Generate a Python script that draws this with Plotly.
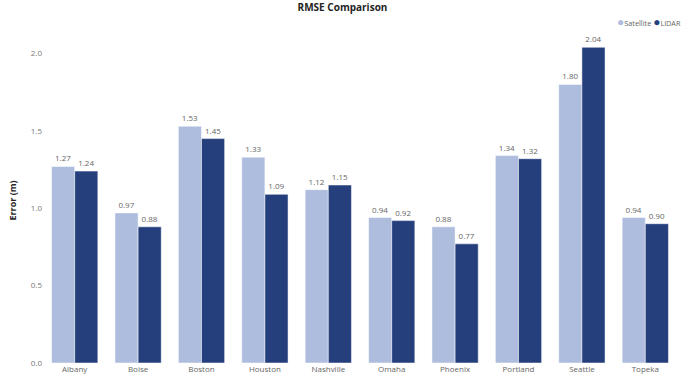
import plotly.graph_objects as go

cities = ["Albany", "Boise", "Boston", "Houston", "Nashville", "Omaha",
          "Phoenix", "Portland", "Seattle", "Topeka"]
satellite = [1.27, 0.97, 1.53, 1.33, 1.12, 0.94, 0.88, 1.34, 1.80, 0.94]
lidar = [1.24, 0.88, 1.45, 1.09, 1.15, 0.92, 0.77, 1.32, 2.04, 0.90]
y_ticks = [0.0, 0.5, 1.0, 1.5, 2.0]
series_names = ["Satellite", "LiDAR"]

sat_color = "#AEBDDE"
lidar_color = "#253F7D"
colors = [sat_color, lidar_color]
font_family = "Open Sans, Noto Sans, sans-serif"

fig = go.Figure()
for name, vals, col in zip(series_names, [satellite, lidar], colors):
    fig.add_trace(go.Bar(
        x=cities, y=vals, name=name, marker=dict(color=col, line=dict(color="white", width=0.5)),
        text=[f"{v:.2f}" for v in vals], textposition="outside",
        textfont=dict(size=8, color="#666666", family=font_family),
        cliponaxis=False, showlegend=False,
    ))

# compact legend (circle + label) in the top-right corner
legend_text = " ".join(
    f'<span style="color:{col};font-size:12px">●</span>{name}'
    for name, col in zip(series_names, colors)
)
legend_ann = [dict(text=legend_text, xref="paper", yref="paper", x=1, y=1, xshift=5, yshift=17,
                   xanchor="right", yanchor="middle", showarrow=False, borderpad=0,
                   font=dict(size=7.3, color="#666666", family=font_family))]

fig.update_layout(
    width=685, height=375,
    margin=dict(l=43, r=8, t=38, b=12, autoexpand=False),
    paper_bgcolor="white", plot_bgcolor="white",
    font=dict(family=font_family, size=8, color="#666666"),
    title=dict(text="<b>RMSE Comparison</b>", x=0.5, xanchor="center", y=0.98, yanchor="middle",
               font=dict(size=10, color="#252423", family=font_family)),
    barmode="group", bargap=0.27, bargroupgap=0,
    showlegend=False,
    annotations=legend_ann,
    xaxis=dict(showgrid=False, showline=False, ticks="", automargin=False,
               tickfont=dict(size=8, color="#666666")),
    yaxis=dict(range=[0, 2.1], tickvals=y_ticks, ticktext=[f"{v:.1f}" for v in y_ticks],
               showgrid=False, zeroline=False, showline=False, ticks="", automargin=False,
               tickfont=dict(size=8, color="#777777"),
               title=dict(text="<b>Error (m)</b>", font=dict(size=9, color="#252423"), standoff=12)),
)

fig.write_html("out.html", config={"displayModeBar": False},
               post_script="document.body.style.margin='0';")
